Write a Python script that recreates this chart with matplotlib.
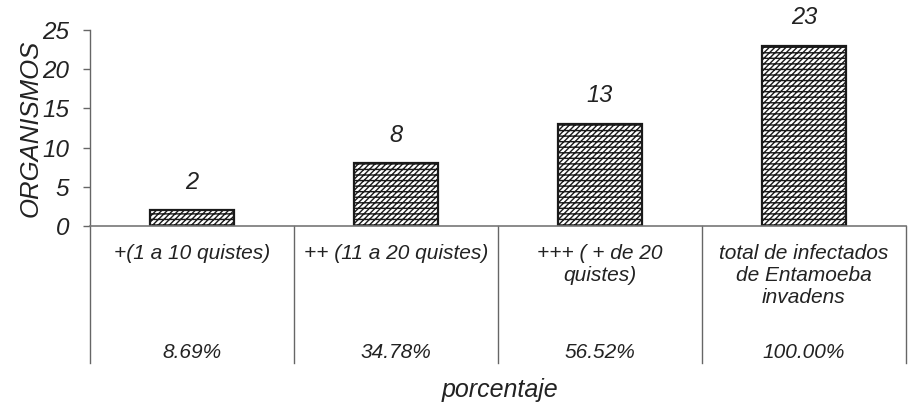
import matplotlib
matplotlib.use("Agg")
import matplotlib.pyplot as plt
import matplotlib.transforms as mtransforms

plt.rcParams["font.family"] = ["Liberation Sans", "DejaVu Sans"]
plt.rcParams["hatch.linewidth"] = 1.0

# data
categorias = ["+(1 a 10 quistes)", "++ (11 a 20 quistes)", "+++ ( + de 20\nquistes)",
              "total de infectados\nde Entamoeba\ninvadens"]
organismos = [2, 8, 13, 23]
porcentajes = ["8.69%", "34.78%", "56.52%", "100.00%"]
yticks = [0, 5, 10, 15, 20, 25]

W, H = 908, 405
fig = plt.figure(figsize=(W / 100, H / 100), dpi=100)
ax = fig.add_axes([90 / W, (H - 226) / H, (906 - 90) / W, 196 / H])

x = list(range(len(organismos)))
ax.bar(x, organismos, width=0.41, facecolor="white", edgecolor="#1a1a1a",
       hatch="//////---", linewidth=1.6)
for xi, v in zip(x, organismos):
    ax.text(xi, v + 3.6, str(v), ha="center", va="center", fontsize=17,
            style="italic", color="#222222")

ax.set_xlim(-0.5, len(organismos) - 0.5)
ax.set_ylim(0, 25)
ax.set_yticks(yticks)
ax.set_yticklabels([str(t) for t in yticks], fontsize=17.5, style="italic", color="#222222")
ax.tick_params(axis="y", length=5, width=1, color="#666666", pad=10)
ax.set_xticks([])
for s in ["top", "right"]:
    ax.spines[s].set_visible(False)
ax.spines["left"].set_visible(False)
ax.spines["bottom"].set_color("#777777")
ax.spines["bottom"].set_linewidth(1.2)

ax.set_ylabel("ORGANISMOS", fontsize=18.5, style="italic", color="#222222", labelpad=0)

# table under the axis
tr = mtransforms.blended_transform_factory(ax.transData, ax.transAxes)
bottom = -(363 - 226) / 196
for b in [-0.5, 0.5, 1.5, 2.5, 3.5]:
    ax.plot([b, b], [1.0 if b == -0.5 else 0, bottom], transform=tr, color="#666666",
            lw=1.0, clip_on=False)
for xi, lab, p in zip(x, categorias, porcentajes):
    ax.text(xi, -(244 - 226) / 196, lab, transform=tr, ha="center", va="top",
            fontsize=15, style="italic", color="#222222", linespacing=1.2)
    ax.text(xi, -(352 - 226) / 196, p, transform=tr, ha="center", va="center",
            fontsize=15, style="italic", color="#222222")

fig.text(500 / W, 1 - 390 / H, "porcentaje", ha="center", va="center", fontsize=18,
         style="italic", color="#222222")

fig.savefig("out.png", dpi=100)
